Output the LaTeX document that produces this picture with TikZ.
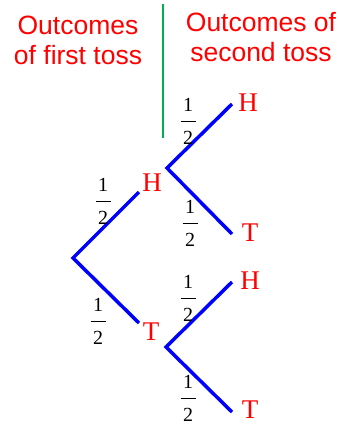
\documentclass[tikz,border=0pt]{standalone}
\usepackage{fontspec}
\setmainfont{Liberation Serif}
\newfontfamily\headfont{Liberation Sans}
\usepackage{xcolor}

\definecolor{branchblue}{RGB}{0,0,255}
\definecolor{divgreen}{RGB}{0,176,80}

% one half, set as stacked text
\newcommand{\half}{{\renewcommand{\arraystretch}{1.42}%
  \begin{tabular}{@{\hspace{2.5pt}}c@{\hspace{2.5pt}}}1\\\hline 2\end{tabular}}}

\begin{document}
\begin{tikzpicture}[x=1pt, y=-1pt,
    branch/.style={draw=branchblue, line width=3.5pt},
    outcome/.style={text=red, font=\fontsize{27}{27}\selectfont, inner sep=0pt},
    prob/.style={font=\fontsize{20}{23}\selectfont, inner sep=0pt},
    heading/.style={text=red, align=center, font=\headfont\fontsize{26.5}{30}\selectfont, inner sep=0pt}]

    \useasboundingbox (0,0) rectangle (340,426);

    % Headings and divider
    \node[heading] (first) at (78,40) {Outcomes\\of first toss};
    \node[heading] (second) at (261,37) {Outcomes of\\second toss};
    \coordinate (divtop) at (163,4);
    \coordinate (divbot) at (163,138);
    \draw[divgreen, line width=2pt] (divtop) -- (divbot);

    % First toss
    \coordinate (root) at (73,258);
    \coordinate (h1) at (139,192);
    \coordinate (t1) at (139,323);
    \draw[branch] (h1) -- (root) -- (t1);
    \node[outcome] (lh1) at (152,183) {H};
    \node[outcome] (lt1) at (151,332) {T};
    \node[prob] (p1) at (103,201) {\half};
    \node[prob] (p2) at (98,321) {\half};

    % Second toss after H
    \coordinate (hs) at (167,168);
    \coordinate (hh) at (232,104);
    \coordinate (ht) at (232,234);
    \draw[branch] (hh) -- (hs) -- (ht);
    \node[outcome] (lhh) at (248,103) {H};
    \node[outcome] (lht) at (250,233) {T};
    \node[prob] (p3) at (188,121) {\half};
    \node[prob] (p4) at (190,223) {\half};

    % Second toss after T
    \coordinate (ts) at (166,347);
    \coordinate (th) at (232,282);
    \coordinate (tt) at (232,412);
    \draw[branch] (th) -- (ts) -- (tt);
    \node[outcome] (lth) at (250,281) {H};
    \node[outcome] (ltt) at (250,410) {T};
    \node[prob] (p5) at (188,298) {\half};
    \node[prob] (p6) at (188,398) {\half};
\end{tikzpicture}
\end{document}
